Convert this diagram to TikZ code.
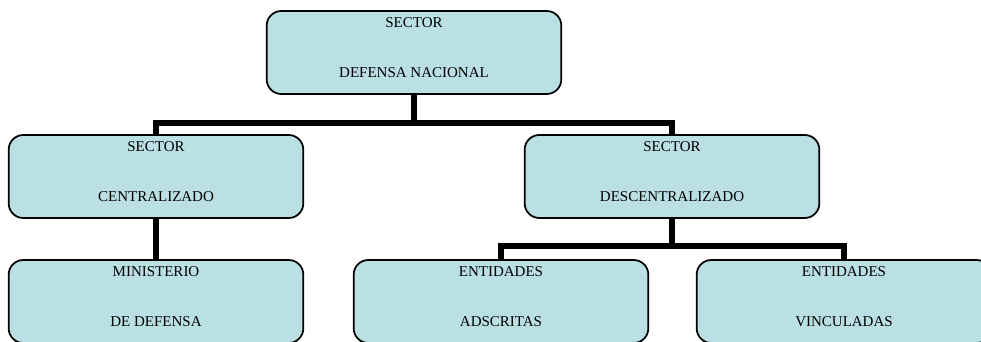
\documentclass[tikz,border=0pt]{standalone}
\usepackage{fontspec}
\setmainfont{Liberation Serif}
\usepackage{xcolor}
\usepackage{tikz}
\usetikzlibrary{positioning, backgrounds}
\definecolor{cajafondo}{RGB}{186,224,227}

\tikzset{
    unidad/.style={draw=black, line width=1.3pt, fill=cajafondo, rounded corners=11pt,
        minimum width=221pt, minimum height=62.25pt, inner sep=2pt, align=center,
        font=\fontsize{11.25}{37.5}\selectfont, text depth=8pt},
    enlace/.style={line width=3.8pt, line join=miter}
}

\begin{document}
\begin{tikzpicture}[x=0.75pt, y=-0.75pt]
        \clip (0,0) rectangle (981,342);
        \useasboundingbox (0,0) rectangle (981,342);
        \node[unidad] (sdn) at (414,52.5) {SECTOR\\DEFENSA NACIONAL};
        \node[unidad] (central) at (156,176.5) {SECTOR\\CENTRALIZADO};
        \node[unidad] (descentral) at (672,176.5) {SECTOR\\DESCENTRALIZADO};
        \node[unidad] (ministerio) at (156,301.5) {MINISTERIO\\DE DEFENSA};
        \node[unidad] (adscritas) at (501,301.5) {ENTIDADES\\ADSCRITAS};
        \node[unidad] (vinculadas) at (844,301.5) {ENTIDADES\\VINCULADAS};
        \coordinate (busA) at (414,123);
        \coordinate (busB) at (672,246);
        \begin{scope}[on background layer]
        \draw[enlace] (sdn.south)--(busA);
        \draw[enlace] (central.north) |- (busA) -| (descentral.north);
        \draw[enlace] (central.south)--(ministerio.north);
        \draw[enlace] (descentral.south)--(busB);
        \draw[enlace] (adscritas.north) |- (busB) -| (vinculadas.north);
        \end{scope}
    \end{tikzpicture}
\end{document}
